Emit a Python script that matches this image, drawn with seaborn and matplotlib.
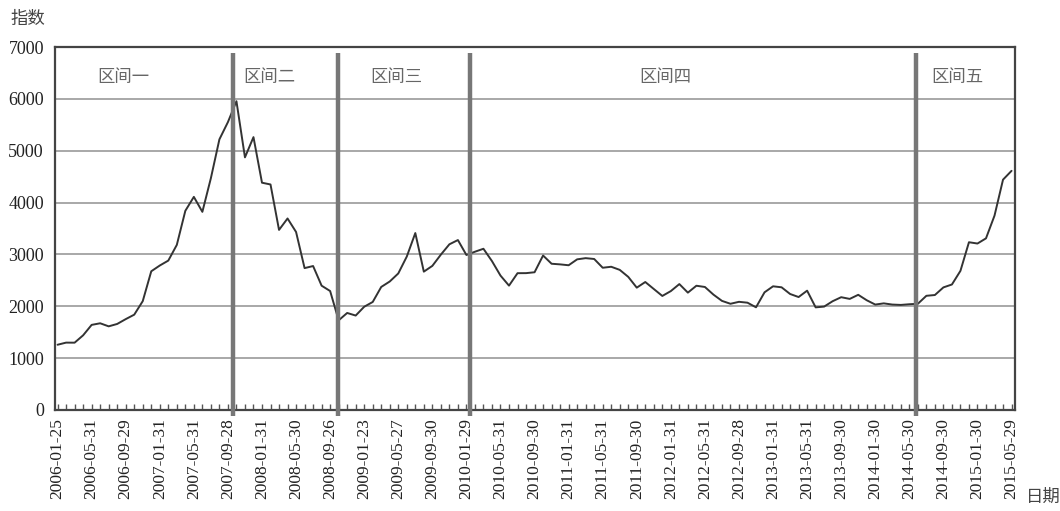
import numpy as np
import pandas as pd
import matplotlib
matplotlib.use('Agg')
import matplotlib.pyplot as plt
import seaborn as sns

# month-end index values, 2006-01 .. 2015-05
values = [
    1258, 1299, 1298, 1440, 1641, 1672, 1613, 1659, 1752, 1838, 2099, 2675,
    2786, 2881, 3184, 3841, 4110, 3821, 4471, 5219, 5552, 5955, 4872, 5262,
    4383, 4349, 3473, 3693, 3433, 2736, 2776, 2397, 2294, 1729, 1871, 1821,
    1991, 2083, 2373, 2478, 2633, 2959, 3412, 2668, 2779, 2996, 3195, 3277,
    2989, 3052, 3109, 2871, 2592, 2398, 2638, 2639, 2656, 2979, 2820, 2808,
    2791, 2905, 2928, 2912, 2743, 2762, 2702, 2567, 2359, 2468, 2333, 2199,
    2293, 2428, 2263, 2396, 2372, 2225, 2104, 2048, 2086, 2069, 1980, 2269,
    2385, 2366, 2237, 2178, 2301, 1979, 1994, 2098, 2175, 2142, 2221, 2116,
    2033, 2056, 2033, 2026, 2039, 2048, 2202, 2217, 2364, 2420, 2683, 3235,
    3210, 3310, 3748, 4442, 4612,
]

tick_labels = [
    '2006-01-25', '2006-05-31', '2006-09-29', '2007-01-31', '2007-05-31',
    '2007-09-28', '2008-01-31', '2008-05-30', '2008-09-26', '2009-01-23',
    '2009-05-27', '2009-09-30', '2010-01-29', '2010-05-31', '2010-09-30',
    '2011-01-31', '2011-05-31', '2011-09-30', '2012-01-31', '2012-05-31',
    '2012-09-28', '2013-01-31', '2013-05-31', '2013-09-30', '2014-01-30',
    '2014-05-30', '2014-09-30', '2015-01-30', '2015-05-29',
]

regions = ['区间一', '区间二', '区间三', '区间四', '区间五']
region_x = [7.7, 24.9, 39.8, 71.4, 105.6]
dividers = [20.6, 32.9, 48.4, 100.8]

df = pd.DataFrame({'idx': np.arange(len(values)), 'value': values})

sns.set_theme(style='white')
plt.rcParams['font.family'] = ['Liberation Serif', 'Noto Sans CJK SC']

fig = plt.figure(figsize=(10.6, 5.11), dpi=100)
ax = fig.add_axes([0.0519, 0.1977, 0.9056, 0.7103])

# grid lines
for v in range(1000, 7001, 1000):
    ax.axhline(v, color='#a8a8a8', lw=1.4, zorder=1)

sns.lineplot(data=df, x='idx', y='value', ax=ax, color='#333333', lw=1.4, zorder=3)

ax.vlines(dividers, -120, 6880, colors='#777777', lw=3.2, zorder=4, clip_on=False)

for name, x in zip(regions, region_x):
    ax.text(x, 6420, name, ha='center', va='center', fontsize=12.5,
            color='#666666', family=['Noto Sans CJK SC'])

ax.set_xlim(-0.3, 112.4)
ax.set_ylim(0, 7000)
ax.set_yticks(range(0, 7001, 1000))
ax.set_yticklabels([str(v) for v in range(0, 7001, 1000)], fontsize=13, color='#222222')

ax.set_xticks(np.arange(0, len(values), 4))
ax.set_xticklabels(tick_labels, rotation=90, fontsize=12.5, color='#222222')
ax.set_xticks(np.arange(len(values)), minor=True)
ax.tick_params(axis='x', which='both', direction='in', length=4, width=1,
               color='#555555', bottom=True, pad=6)
ax.tick_params(axis='y', length=0, pad=8)

ax.set_xlabel('')
ax.set_ylabel('')
for side in ['left', 'right', 'top', 'bottom']:
    ax.spines[side].set_color('#444444')
    ax.spines[side].set_linewidth(1.6)

fig.text(0.026, 0.962, '指数', ha='center', va='center', fontsize=12.5,
         color='#444444', family=['Noto Sans CJK SC'])
fig.text(0.984, 0.028, '日期', ha='center', va='center', fontsize=12.5,
         color='#444444', family=['Noto Sans CJK SC'])

fig.savefig('out.png', dpi=100)
